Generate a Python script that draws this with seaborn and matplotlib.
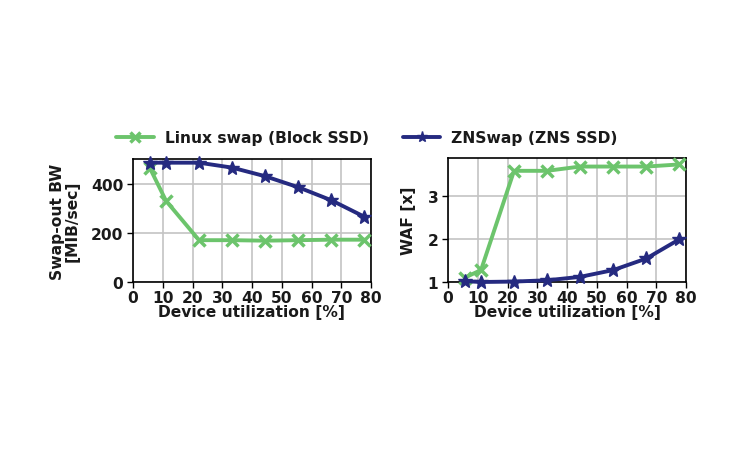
import matplotlib
matplotlib.use("Agg")
import pandas as pd
from matplotlib import pyplot as plt
import seaborn as sns

# device utilization [%]
utilization = [5.6, 11.1, 22.2, 33.3, 44.4, 55.6, 66.7, 77.8]

# swap-out bandwidth [MiB/sec]
bw_linux = [465, 330, 170, 170, 168, 170, 172, 172]
bw_znswap = [485, 485, 485, 465, 430, 385, 332, 265]

# write amplification factor
waf_linux = [1.10, 1.28, 3.60, 3.60, 3.70, 3.70, 3.70, 3.75]
waf_znswap = [1.02, 1.00, 1.01, 1.04, 1.12, 1.28, 1.55, 2.00]

labels = ["Linux swap (Block SSD)", "ZNSwap (ZNS SSD)"]
colors = ["#6cc46c", "#252a80"]
markers = ["x", "*"]

FS = 11.2

sns.set_style("whitegrid")
plt.rcParams['font.family'] = ['DejaVu Sans']
plt.rcParams['font.weight'] = 'bold'
plt.rcParams['axes.labelweight'] = 'bold'
plt.rcParams['font.size'] = FS
plt.rcParams['text.color'] = '#1a1a1a'
plt.rcParams['axes.labelcolor'] = '#1a1a1a'
plt.rcParams['xtick.color'] = '#1a1a1a'
plt.rcParams['ytick.color'] = '#1a1a1a'

fig = plt.figure(figsize=(7.4, 4.6), dpi=100)
ax1 = fig.add_axes([133 / 740, 1 - 283 / 460, 238 / 740, 123 / 460])
ax2 = fig.add_axes([448 / 740, 1 - 283 / 460, 238 / 740, 124 / 460])

bw = pd.DataFrame({"util": utilization * 2,
                   "value": bw_linux + bw_znswap,
                   "system": [labels[0]] * 8 + [labels[1]] * 8})
waf = pd.DataFrame({"util": utilization * 2,
                    "value": waf_linux + waf_znswap,
                    "system": [labels[0]] * 8 + [labels[1]] * 8})

for ax, df in [(ax1, bw), (ax2, waf)]:
    for lab, col, mk in zip(labels, colors, markers):
        sub = df[df["system"] == lab]
        sns.lineplot(data=sub, x="util", y="value", ax=ax, color=col,
                     marker=mk, markersize=8.5 if mk == "x" else 10,
                     markeredgewidth=2.5 if mk == "x" else 1,
                     markeredgecolor=col, linewidth=2.8, label=lab,
                     legend=False, clip_on=False, zorder=3)
    ax.set_xlim(0, 80)
    ax.set_xticks(range(0, 81, 10))
    ax.set_xlabel("Device utilization [%]", fontsize=FS, labelpad=-1)
    ax.grid(True, color="#c4c4c4", linewidth=1.2)
    for s in ax.spines.values():
        s.set_color("black")
        s.set_linewidth(1.2)
    ax.tick_params(axis="both", which="major", length=4, width=1,
                   color="black", labelsize=FS, pad=2, bottom=True, left=True)
    ax.tick_params(axis="y", pad=3)

ax1.set_ylim(0, 500)
ax1.set_yticks([0, 200, 400])
ax1.set_ylabel("Swap-out BW\n[MIB/sec]", fontsize=FS, labelpad=8, linespacing=0.95)

ax2.set_ylim(1, 3.9)
ax2.set_yticks([1, 2, 3])
ax2.set_ylabel("WAF [x]", fontsize=FS, labelpad=8)

handles, hl = ax1.get_legend_handles_labels()
fig.legend(handles, hl, loc="center", bbox_to_anchor=(367 / 740, 1 - 139 / 460),
           ncol=2, frameon=False, fontsize=FS, handlelength=2.4,
           columnspacing=2.2, handletextpad=0.7, markerscale=0.8)

fig.savefig("out.png", dpi=100)
